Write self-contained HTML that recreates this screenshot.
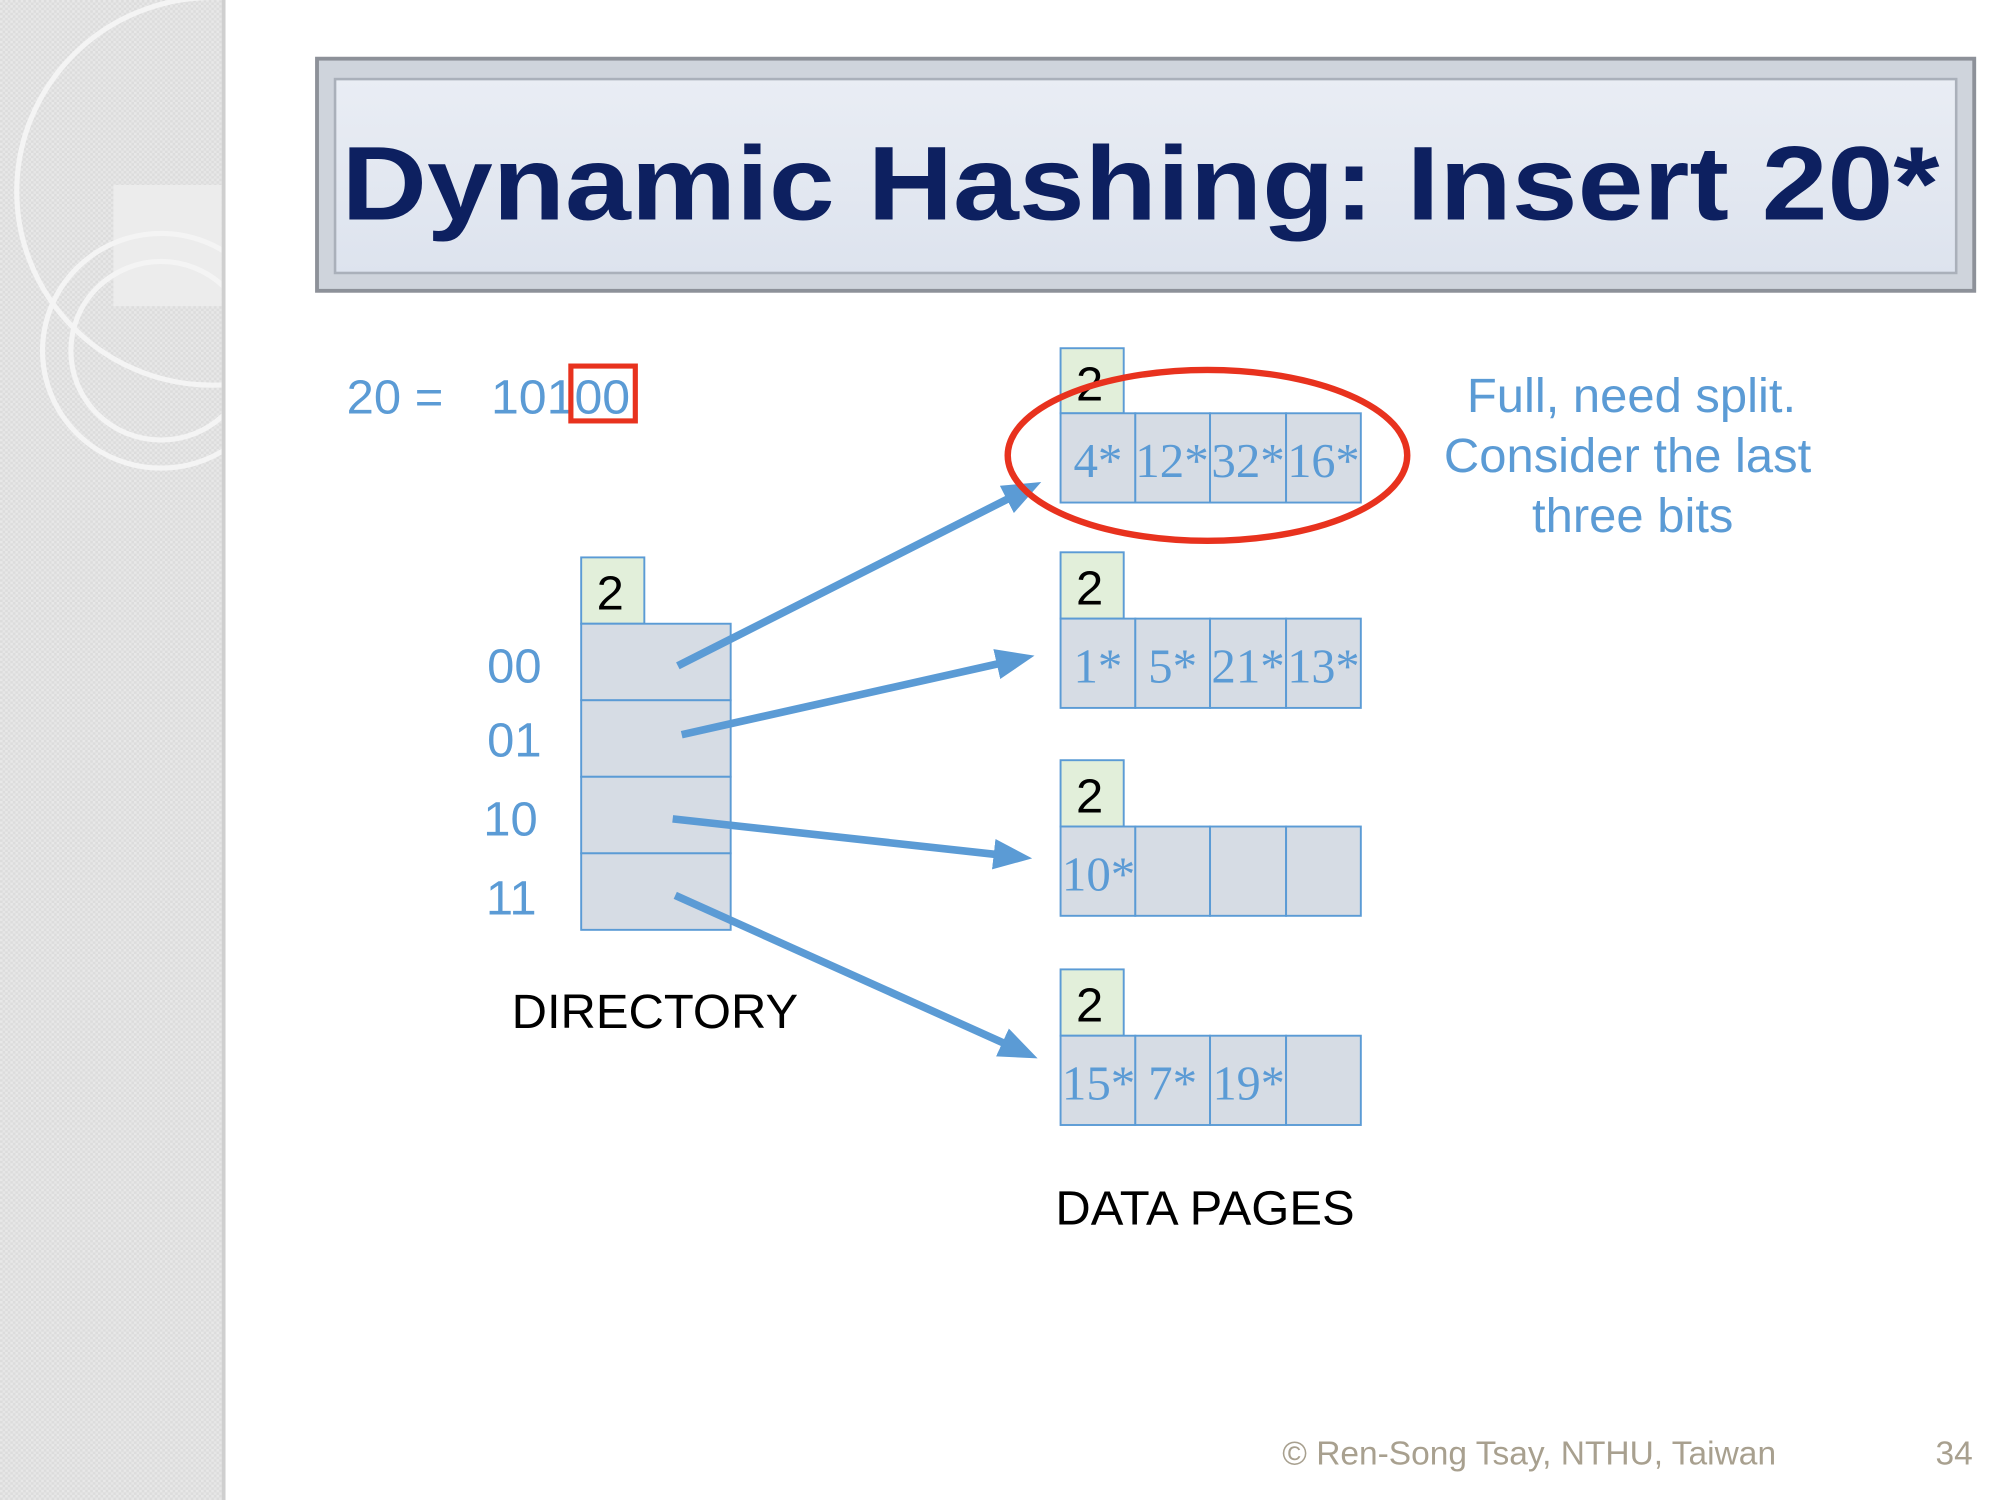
<!DOCTYPE html>
<html><head><meta charset="utf-8"><style>
html,body{margin:0;padding:0;width:2000px;height:1500px;overflow:hidden;background:#fff}
#w{position:absolute;left:0;top:0;width:1552px;height:1176px;transform-origin:0 0;transform:scale(1.28866,1.27551)}
</style></head><body><div id="w">
<svg width="1552" height="1176" xmlns="http://www.w3.org/2000/svg" font-family="Liberation Sans, sans-serif">
<defs>
<pattern id="p" width="4" height="4" patternUnits="userSpaceOnUse"><rect width="4" height="4" fill="#dcdcdc"/><rect width="2" height="2" fill="#e8e8e8"/><rect x="2" y="2" width="2" height="2" fill="#e6e6e6"/></pattern>
<linearGradient id="g" x1="0" y1="0" x2="0" y2="1"><stop offset="0" stop-color="#e9edf4"/><stop offset="1" stop-color="#dde3ee"/></linearGradient>
<marker id="a" markerWidth="5" markerHeight="4" refX="3.5" refY="2" orient="auto" markerUnits="strokeWidth"><path d="M0,0 L5,2 L0,4 z" fill="#5b9bd5"/></marker>
<clipPath id="c"><rect x="0" y="0" width="172" height="1176"/></clipPath>
</defs>
<rect x="0" y="0" width="172" height="1176" fill="url(#p)"/>
<g clip-path="url(#c)">
<rect x="88" y="145" width="84" height="95" fill="#ececec"/>
<g fill="none" stroke="#f4f4f4" stroke-width="4">
<circle cx="165" cy="150" r="152"/>
<circle cx="125" cy="275" r="92"/>
<circle cx="125" cy="275" r="70"/>
</g>
</g>
<rect x="172" y="0" width="3" height="1176" fill="#cfcfcf"/>
<rect x="246" y="46" width="1286" height="182" fill="#cfd4dc" stroke="#8d9199" stroke-width="3"/>
<rect x="260" y="62" width="1258" height="152" fill="url(#g)" stroke="#aab0ba" stroke-width="2"/>
<text x="265" y="172" font-size="82" font-weight="bold" fill="#0d2060" textLength="1240" lengthAdjust="spacingAndGlyphs">Dynamic Hashing: Insert 20*</text>
<g fill="#5b9bd5" font-size="38">
<text x="269" y="324">20 =</text>
<text x="381" y="324" textLength="108" lengthAdjust="spacingAndGlyphs">10100</text>
<text x="378" y="535">00</text><text x="378" y="593">01</text><text x="375" y="655">10</text><text x="377" y="717">11</text>
<text x="1266" y="323" text-anchor="middle">Full, need split.</text>
<text x="1263" y="370" text-anchor="middle">Consider the last</text>
<text x="1267" y="417" text-anchor="middle">three bits</text>
</g>
<rect x="443" y="287" width="50" height="43" fill="none" stroke="#e8321e" stroke-width="4"/>
<g stroke="#5b9bd5" stroke-width="1.5">
<rect x="451" y="437" width="49" height="52" fill="#e2efda"/>
<rect x="451" y="489" width="116" height="60" fill="#d6dce4"/>
<rect x="451" y="549" width="116" height="60" fill="#d6dce4"/>
<rect x="451" y="609" width="116" height="60" fill="#d6dce4"/>
<rect x="451" y="669" width="116" height="60" fill="#d6dce4"/>
</g>
<g font-size="38" fill="#000"><text x="463" y="478">2</text></g>
<g stroke="#5b9bd5" stroke-width="1.5">
<rect x="823" y="273" width="49" height="51" fill="#e2efda"/>
<rect x="823" y="324" width="58" height="70" fill="#d6dce4"/><rect x="881" y="324" width="58" height="70" fill="#d6dce4"/><rect x="939" y="324" width="59" height="70" fill="#d6dce4"/><rect x="998" y="324" width="58" height="70" fill="#d6dce4"/>
<rect x="823" y="433" width="49" height="52" fill="#e2efda"/>
<rect x="823" y="485" width="58" height="70" fill="#d6dce4"/><rect x="881" y="485" width="58" height="70" fill="#d6dce4"/><rect x="939" y="485" width="59" height="70" fill="#d6dce4"/><rect x="998" y="485" width="58" height="70" fill="#d6dce4"/>
<rect x="823" y="596" width="49" height="52" fill="#e2efda"/>
<rect x="823" y="648" width="58" height="70" fill="#d6dce4"/><rect x="881" y="648" width="58" height="70" fill="#d6dce4"/><rect x="939" y="648" width="59" height="70" fill="#d6dce4"/><rect x="998" y="648" width="58" height="70" fill="#d6dce4"/>
<rect x="823" y="760" width="49" height="52" fill="#e2efda"/>
<rect x="823" y="812" width="58" height="70" fill="#d6dce4"/><rect x="881" y="812" width="58" height="70" fill="#d6dce4"/><rect x="939" y="812" width="59" height="70" fill="#d6dce4"/><rect x="998" y="812" width="58" height="70" fill="#d6dce4"/>
</g>
<g font-size="38" fill="#000">
<text x="835" y="314">2</text><text x="835" y="474">2</text><text x="835" y="637">2</text><text x="835" y="801">2</text>
</g>
<g font-family="Liberation Serif, serif" font-size="38" fill="#5b9bd5">
<text x="833" y="374">4*</text><text x="881" y="374" textLength="57" lengthAdjust="spacingAndGlyphs">12*</text><text x="940" y="374" textLength="57" lengthAdjust="spacingAndGlyphs">32*</text><text x="999" y="374" textLength="56" lengthAdjust="spacingAndGlyphs">16*</text>
<text x="833" y="535">1*</text><text x="891" y="535">5*</text><text x="940" y="535" textLength="57" lengthAdjust="spacingAndGlyphs">21*</text><text x="999" y="535" textLength="56" lengthAdjust="spacingAndGlyphs">13*</text>
<text x="824" y="698" textLength="57" lengthAdjust="spacingAndGlyphs">10*</text>
<text x="824" y="862" textLength="57" lengthAdjust="spacingAndGlyphs">15*</text><text x="891" y="862">7*</text><text x="941" y="862" textLength="56" lengthAdjust="spacingAndGlyphs">19*</text>
</g>
<g stroke="#5b9bd5" stroke-width="6" marker-end="url(#a)">
<line x1="526" y1="522" x2="800" y2="382"/>
<line x1="529" y1="576" x2="794" y2="516"/>
<line x1="522" y1="642" x2="792" y2="672"/>
<line x1="524" y1="702" x2="797" y2="826"/>
</g>
<ellipse cx="937" cy="357" rx="155" ry="67" fill="none" stroke="#e8321e" stroke-width="5"/>
<g font-size="38" fill="#000">
<text x="397" y="806">DIRECTORY</text>
<text x="819" y="960">DATA PAGES</text>
</g>
<text x="995" y="1148" font-size="26" fill="#a8a08f">© Ren-Song Tsay, NTHU, Taiwan</text>
<text x="1502" y="1148" font-size="26" fill="#a8a08f">34</text>
</svg>
</div></body></html>
